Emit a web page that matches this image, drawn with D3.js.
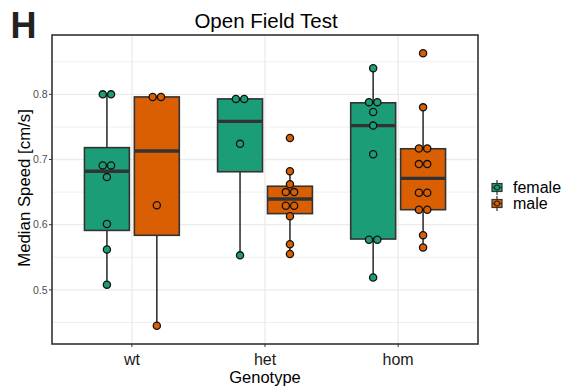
<!DOCTYPE html>
<html>
<head>
<meta charset="utf-8">
<script src="https://cdn.jsdelivr.net/npm/d3@7"></script>
<style>
  html, body { margin: 0; padding: 0; background: #fff; }
  svg { display: block; font-family: "Liberation Sans", Arial, sans-serif; }
</style>
</head>
<body>
<svg id="chart" width="570" height="390"></svg>
<script>
// Genotype groups and sexes
const genotypes = ["wt", "het", "hom"];
const sexes = ["female", "male"];
const sexColors = ["#1B9E77", "#D95F02"];
const yTicks = [0.5, 0.6, 0.7, 0.8];

// Median speed per animal [cm/s]
const wtFemale  = [0.508, 0.562, 0.601, 0.673, 0.691, 0.691, 0.800, 0.800];
const wtMale    = [0.445, 0.630, 0.796, 0.796];
const hetFemale = [0.553, 0.724, 0.793, 0.793];
const hetMale   = [0.555, 0.570, 0.613, 0.629, 0.629, 0.650, 0.650, 0.662, 0.682, 0.733];
const homFemale = [0.519, 0.576, 0.578, 0.708, 0.752, 0.773, 0.787, 0.789, 0.840];
const homMale   = [0.565, 0.584, 0.623, 0.623, 0.649, 0.649, 0.693, 0.693, 0.716, 0.718, 0.780, 0.863];

const groups = [
  { genotype: "wt",  sex: "female", values: wtFemale },
  { genotype: "wt",  sex: "male",   values: wtMale },
  { genotype: "het", sex: "female", values: hetFemale },
  { genotype: "het", sex: "male",   values: hetMale },
  { genotype: "hom", sex: "female", values: homFemale },
  { genotype: "hom", sex: "male",   values: homMale }
];

const svg = d3.select("#chart");
const panel = { left: 52, right: 478, top: 35, bottom: 344 };
const ink = "#333333";

// Discrete x positions with 0.6 unit expansion on each side
const x = d3.scalePoint().domain(genotypes)
  .range([panel.left, panel.right]).padding(0.6);
const unit = x.step();
const dodge = d3.scaleBand().domain(sexes).range([-0.375 * unit, 0.375 * unit]);
const color = d3.scaleOrdinal().domain(sexes).range(sexColors);

const all = groups.flatMap(g => g.values);
const [lo, hi] = d3.extent(all);
const pad = (hi - lo) * 0.067;
const y = d3.scaleLinear().domain([lo - pad, hi + pad]).range([panel.bottom, panel.top]);

// Grid
const grid = svg.append("g");
const minor = d3.range(0.45, 0.9, 0.1).filter(v => y(v) > panel.top && y(v) < panel.bottom);
grid.selectAll(".minor").data(minor).join("line")
  .attr("x1", panel.left).attr("x2", panel.right)
  .attr("y1", d => y(d)).attr("y2", d => y(d))
  .attr("stroke", "#EBEBEB").attr("stroke-width", 0.8);
grid.selectAll(".major").data(yTicks).join("line")
  .attr("x1", panel.left).attr("x2", panel.right)
  .attr("y1", d => y(d)).attr("y2", d => y(d))
  .attr("stroke", "#EBEBEB").attr("stroke-width", 1.3);
grid.selectAll(".vmajor").data(genotypes).join("line")
  .attr("x1", d => x(d)).attr("x2", d => x(d))
  .attr("y1", panel.top).attr("y2", panel.bottom)
  .attr("stroke", "#EBEBEB").attr("stroke-width", 1.3);

// Box statistics (type-7 quantiles, 1.5 IQR whiskers)
function stats(vals) {
  const s = vals.slice().sort(d3.ascending);
  const q1 = d3.quantile(s, 0.25), med = d3.quantile(s, 0.5), q3 = d3.quantile(s, 0.75);
  const iqr = q3 - q1;
  const inside = s.filter(v => v >= q1 - 1.5 * iqr && v <= q3 + 1.5 * iqr);
  return { q1, med, q3, wlo: d3.min(inside), whi: d3.max(inside) };
}

// Dot stacking: values within one bin sit side by side
function stackDots(vals, binwidth) {
  const s = vals.slice().sort(d3.ascending);
  const bins = [];
  s.forEach(v => {
    const last = bins[bins.length - 1];
    if (last && v - last.start <= binwidth) last.items.push(v);
    else bins.push({ start: v, items: [v] });
  });
  const out = [];
  bins.forEach(b => {
    const m = d3.mean(b.items);
    b.items.forEach((v, i) => out.push({ v: m, k: i - (b.items.length - 1) / 2 }));
  });
  return out;
}

const boxW = dodge.bandwidth() * 0.9;
const dotR = 3.6;
const dotStep = 8.3;

const plot = svg.append("g");
groups.forEach(g => {
  const st = stats(g.values);
  const cx = x(g.genotype) + dodge(g.sex) + dodge.bandwidth() / 2;
  const gg = plot.append("g");
  // whiskers
  gg.append("line").attr("x1", cx).attr("x2", cx)
    .attr("y1", y(st.q3)).attr("y2", y(st.whi))
    .attr("stroke", ink).attr("stroke-width", 1.6);
  gg.append("line").attr("x1", cx).attr("x2", cx)
    .attr("y1", y(st.q1)).attr("y2", y(st.wlo))
    .attr("stroke", ink).attr("stroke-width", 1.6);
  // box
  gg.append("rect")
    .attr("x", cx - boxW / 2).attr("width", boxW)
    .attr("y", y(st.q3)).attr("height", y(st.q1) - y(st.q3))
    .attr("fill", color(g.sex)).attr("stroke", ink).attr("stroke-width", 1.6);
  // median
  gg.append("line")
    .attr("x1", cx - boxW / 2).attr("x2", cx + boxW / 2)
    .attr("y1", y(st.med)).attr("y2", y(st.med))
    .attr("stroke", ink).attr("stroke-width", 3.4);
  // dots
  gg.selectAll("circle").data(stackDots(g.values, 0.01)).join("circle")
    .attr("cx", d => cx + d.k * dotStep)
    .attr("cy", d => y(d.v))
    .attr("r", dotR)
    .attr("fill", color(g.sex)).attr("stroke", "#111").attr("stroke-width", 1.3);
});

// Panel border
svg.append("rect")
  .attr("x", panel.left).attr("y", panel.top)
  .attr("width", panel.right - panel.left).attr("height", panel.bottom - panel.top)
  .attr("fill", "none").attr("stroke", ink).attr("stroke-width", 1.6);

// Y axis
const yAxis = svg.append("g");
yAxis.selectAll("line").data(yTicks).join("line")
  .attr("x1", panel.left - 3).attr("x2", panel.left)
  .attr("y1", d => y(d)).attr("y2", d => y(d))
  .attr("stroke", ink).attr("stroke-width", 1);
yAxis.selectAll("text").data(yTicks).join("text")
  .attr("x", panel.left - 4.5).attr("y", d => y(d))
  .attr("dy", "0.35em").attr("text-anchor", "end")
  .attr("font-size", 10.5).attr("fill", "#4D4D4D")
  .text(d => d3.format(".1f")(d));

// X axis
const xAxis = svg.append("g");
xAxis.selectAll("line").data(genotypes).join("line")
  .attr("x1", d => x(d)).attr("x2", d => x(d))
  .attr("y1", panel.bottom).attr("y2", panel.bottom + 3)
  .attr("stroke", ink).attr("stroke-width", 1);
xAxis.selectAll("text").data(genotypes).join("text")
  .attr("x", d => x(d)).attr("y", 365)
  .attr("text-anchor", "middle").attr("font-size", 16).attr("fill", "#1a1a1a")
  .text(d => d);

// Titles
svg.append("text").attr("x", (panel.left + panel.right) / 2).attr("y", 383.3)
  .attr("text-anchor", "middle").attr("font-size", 16.5).attr("fill", "#000")
  .text("Genotype");
svg.append("text")
  .attr("transform", `translate(30,${(panel.top + panel.bottom) / 2 - 1.5}) rotate(-90)`)
  .attr("text-anchor", "middle").attr("font-size", 16.8).attr("fill", "#000")
  .text("Median Speed [cm/s]");
svg.append("text").attr("x", (panel.left + panel.right) / 2 + 1).attr("y", 27.7)
  .attr("text-anchor", "middle").attr("font-size", 20.5).attr("fill", "#000")
  .text("Open Field Test");
svg.append("text").attr("x", 10.5).attr("y", 38.3)
  .attr("font-size", 36).attr("font-weight", "bold").attr("fill", "#222")
  .text("H");

// Legend
const legend = svg.append("g");
sexes.forEach((s, i) => {
  const cy = 187.5 + i * 16;
  const cx = 497;
  const k = legend.append("g");
  k.append("line").attr("x1", cx).attr("x2", cx).attr("y1", cy - 7.5).attr("y2", cy + 7.5)
    .attr("stroke", ink).attr("stroke-width", 1.2);
  k.append("rect").attr("x", cx - 5).attr("y", cy - 4).attr("width", 10).attr("height", 8)
    .attr("fill", color(s)).attr("stroke", ink).attr("stroke-width", 1.2);
  k.append("line").attr("x1", cx - 5).attr("x2", cx + 5).attr("y1", cy).attr("y2", cy)
    .attr("stroke", ink).attr("stroke-width", 1.5);
  k.append("circle").attr("cx", cx).attr("cy", cy).attr("r", 2.6)
    .attr("fill", color(s)).attr("stroke", "#111").attr("stroke-width", 1);
  legend.append("text").attr("x", 513).attr("y", cy).attr("dy", "0.35em")
    .attr("font-size", 16).attr("fill", "#000").text(s);
});
</script>
</body>
</html>
